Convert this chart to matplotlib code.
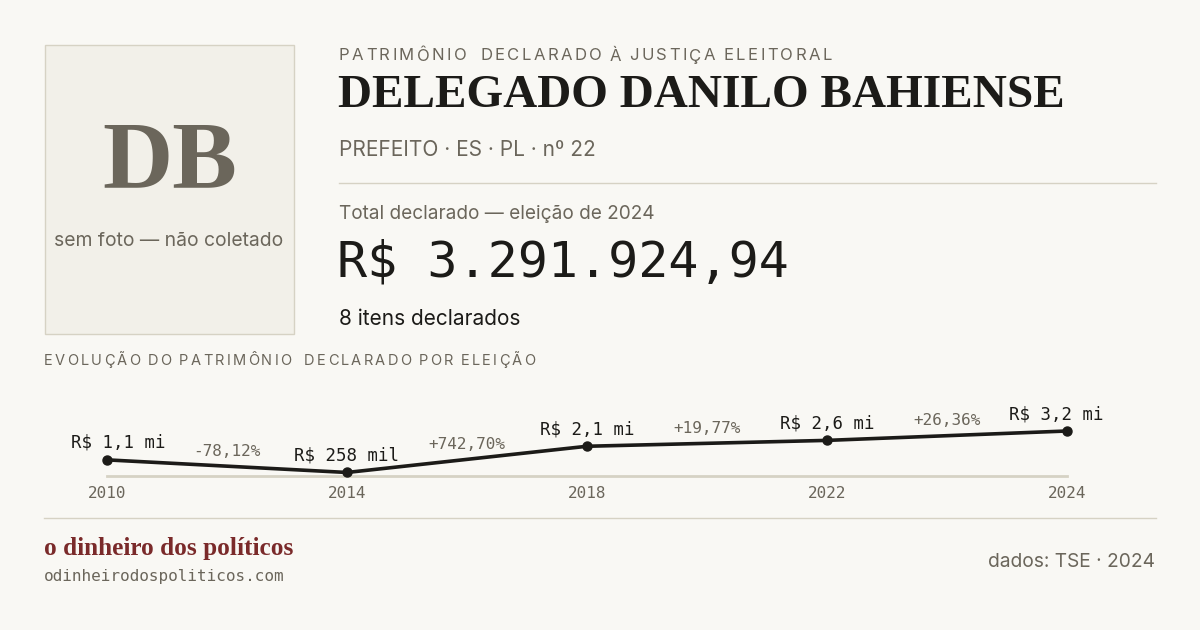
import matplotlib
matplotlib.use("Agg")
import matplotlib.pyplot as plt
from matplotlib.patches import Rectangle

# data
anos = ["2010", "2014", "2018", "2022", "2024"]
patrimonio = [1179700, 258120, 2175170, 2605200, 3291924.94]
rotulos_valor = ["R$ 1,1 mi", "R$ 258 mil", "R$ 2,1 mi", "R$ 2,6 mi", "R$ 3,2 mi"]
rotulos_var = ["-78,12%", "+742,70%", "+19,77%", "+26,36%"]

nome = "DELEGADO DANILO BAHIENSE"
iniciais = "DB"
cargo = "PREFEITO · ES · PL · nº 22"
total = "R$ 3.291.924,94"
itens = "8 itens declarados"

BG = "#f9f8f4"
INK = "#1c1b18"
MUTED = "#6b665b"
RULE = "#d6d2c4"
RED = "#7a2a2a"
SANS = ["Inter", "DejaVu Sans"]
SERIF = ["Liberation Serif", "DejaVu Serif"]
MONO = ["DejaVu Sans Mono", "Liberation Mono"]

W, H = 1200, 630
fig = plt.figure(figsize=(12, 6.3), dpi=100, facecolor=BG)
bg = fig.add_axes([0, 0, 1, 1])
bg.set_xlim(0, W)
bg.set_ylim(H, 0)
bg.axis("off")
renderer = fig.canvas.get_renderer()


def spaced(x, y, s, size, color, track):
    # draw text char by char with extra letter spacing
    for ch in s:
        t = bg.text(x, y, ch, fontsize=size, color=color, family=SANS,
                    va="center", ha="left")
        if ch == " ":
            w = size * 0.2 * 100 / 72
        else:
            w = t.get_window_extent(renderer).width
        x += w + track


# photo placeholder
bg.add_patch(Rectangle((44.5, 44.5), 249, 289, facecolor="#f2f0e9",
                       edgecolor=RULE, lw=1))
bg.text(170, 165, iniciais, fontsize=70, color=MUTED, family=SERIF,
        weight="bold", ha="center", va="center")
bg.text(169, 241, "sem foto — não coletado", fontsize=13.9, color=MUTED,
        family=SANS, ha="center", va="center")

# header
spaced(339, 56, "PATRIMÔNIO  DECLARADO À JUSTIÇA ELEITORAL", 12, MUTED, 2.4)
bg.text(338, 96, nome, fontsize=34, color=INK, family=SERIF, weight="bold",
        ha="left", va="center")
bg.text(339, 150, cargo, fontsize=15, color=MUTED, family=SANS,
        ha="left", va="center")
bg.plot([339, 1156], [182.5, 182.5], color=RULE, lw=1)
bg.text(339, 214, "Total declarado — eleição de 2024", fontsize=13.7,
        color=MUTED, family=SANS, ha="left", va="center")
bg.text(337, 262, total, fontsize=36, color=INK, family=MONO,
        ha="left", va="center")
bg.text(339, 319, itens, fontsize=15, color=INK, family=SANS,
        ha="left", va="center")

spaced(44, 361, "EVOLUÇÃO DO PATRIMÔNIO  DECLARADO POR ELEIÇÃO", 10.5, MUTED, 2.25)

# chart
px_top, px_base = 400, 476
k = 45 / max(patrimonio)  # px per real
ax = fig.add_axes([107 / W, (H - px_base) / H, 960 / W, (px_base - px_top) / H])
ax.set_facecolor("none")
ax.axis("off")
xs = list(range(len(anos)))
ax.set_xlim(0, len(anos) - 1)
ax.set_ylim(0, (px_base - px_top) / k)
ax.axhline(0, color=RULE, lw=2, zorder=1, clip_on=False)
ax.plot(xs, patrimonio, color=INK, lw=2.6, marker="o", ms=6.5,
        zorder=3, clip_on=False, solid_capstyle="round")

for i, (x, v) in enumerate(zip(xs, patrimonio)):
    dx = 11 if i == 0 else (-11 if i == len(xs) - 1 else 0)
    ax.annotate(rotulos_valor[i], (x, v), xytext=(dx, 17),
                textcoords="offset pixels", ha="center", va="center",
                fontsize=12.5, family=MONO, color=INK)
    ax.annotate(anos[i], (x, 0), xytext=(0, -17), textcoords="offset pixels",
                ha="center", va="center", fontsize=11.5, family=MONO,
                color=MUTED)

for i, lab in enumerate(rotulos_var):
    mx = (xs[i] + xs[i + 1]) / 2
    my = (patrimonio[i] + patrimonio[i + 1]) / 2
    ax.annotate(lab, (mx, my), xytext=(0, 15), textcoords="offset pixels",
                ha="center", va="center", fontsize=11.5, family=MONO,
                color=MUTED)

# footer
bg.plot([44, 1156], [517.5, 517.5], color=RULE, lw=1)
bg.text(44, 549, "o dinheiro dos políticos", fontsize=18.2, color=RED,
        family=SERIF, weight="bold", ha="left", va="center")
bg.text(44, 576, "odinheirodospoliticos.com", fontsize=11.5, color=MUTED,
        family=MONO, ha="left", va="center")
bg.text(1155, 562, "dados: TSE · 2024", fontsize=13.8, color=MUTED,
        family=SANS, ha="right", va="center")

fig.savefig("out.png", dpi=100, facecolor=BG)
